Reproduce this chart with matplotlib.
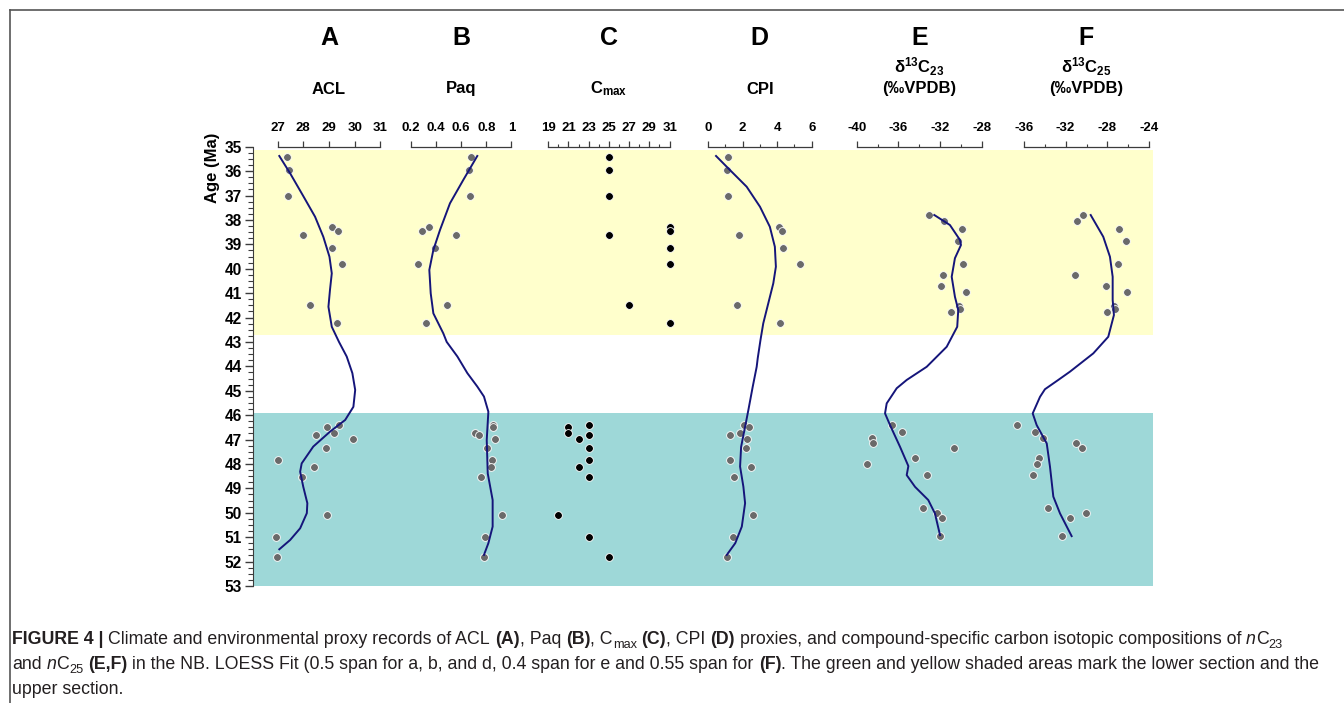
import matplotlib
matplotlib.use("Agg")
import matplotlib.pyplot as plt
from matplotlib import font_manager
from matplotlib.ticker import MultipleLocator, FixedLocator, FuncFormatter
from matplotlib.transforms import IdentityTransform

# ---- data ----
# sample ages (Ma) for ACL, Paq, Cmax, CPI
age = [35.41, 35.95, 37.02, 38.30, 38.44, 38.63, 39.17, 39.82, 41.49, 42.23,
       46.41, 46.47, 46.74, 46.82, 46.97, 47.36, 47.82, 48.14, 48.52, 50.10, 51.01, 51.82]
acl = [27.38, 27.45, 27.40, 29.13, 29.37, 27.98, 29.12, 29.51, 28.28, 29.32,
       29.39, 28.91, 29.21, 28.50, 29.94, 28.89, 27.01, 28.43, 27.94, 28.93, 26.94, 26.99]
paq = [0.679, 0.661, 0.674, 0.345, 0.292, 0.557, 0.390, 0.258, 0.486, 0.322,
       0.850, 0.855, 0.713, 0.740, 0.872, 0.806, 0.843, 0.840, 0.758, 0.923, 0.793, 0.782]
cmax = [25, 25, 25, 31, 31, 25, 31, 31, 27, 31,
        23, 21, 21, 23, 22, 23, 23, 22, 23, 20, 23, 25]
cpi = [1.14, 1.12, 1.18, 4.10, 4.30, 1.78, 4.32, 5.32, 1.66, 4.14,
       2.07, 2.38, 1.86, 1.28, 2.26, 2.20, 1.28, 2.47, 1.49, 2.61, 1.43, 1.10]

# compound-specific isotopes
age_iso = [37.80, 38.05, 38.37, 38.86, 39.81, 40.26, 40.70, 40.94, 41.52, 41.64, 41.79,
           46.41, 46.68, 46.92, 47.13, 47.34, 47.77, 48.02, 48.47, 49.82, 50.03, 50.23, 50.96]
d13c23 = [-33.06, -31.59, -29.89, -30.25, -29.80, -31.69, -31.94, -29.48, -30.15, -30.09, -30.95,
          -36.64, -35.62, -38.56, -38.46, -30.63, -34.43, -38.98, -33.22, -33.67, -32.32, -31.84, -32.01]
d13c25 = [-30.36, -30.88, -26.87, -26.23, -26.96, -31.13, -28.14, -26.11, -27.38, -27.25, -28.01,
          -36.61, -34.92, -34.19, -30.98, -30.43, -34.54, -34.73, -35.14, -33.65, -30.02, -31.61, -32.34]

# LOESS curves
acl_fit_age = [35.38, 36.09, 37.02, 37.87, 38.69, 39.51, 40.19, 40.87, 41.56, 42.38, 43.00, 43.60,
               44.28, 44.97, 45.66, 46.20, 46.68, 47.29, 47.98, 48.32, 48.93, 49.61, 50.02, 50.64, 51.12, 51.50]
acl_fit = [27.07, 27.49, 28.00, 28.46, 28.78, 29.02, 29.11, 29.04, 28.98, 29.11, 29.39, 29.69,
           29.91, 30.02, 29.95, 29.63, 29.04, 28.39, 27.94, 27.88, 28.00, 28.16, 28.14, 27.88, 27.49, 27.07]
paq_fit_age = [35.38, 36.36, 37.32, 38.41, 39.23, 40.05, 41.01, 41.83, 42.65, 43.00, 43.60, 44.28,
               44.83, 45.24, 45.86, 47.02, 48.39, 49.48, 50.57, 51.25, 51.73]
paq_fit = [0.729, 0.618, 0.512, 0.433, 0.380, 0.348, 0.359, 0.380, 0.459, 0.486, 0.571, 0.650,
           0.729, 0.782, 0.817, 0.804, 0.812, 0.851, 0.851, 0.817, 0.782]
cpi_fit_age = [35.38, 35.96, 36.64, 37.46, 38.28, 39.10, 39.92, 40.60, 41.42, 42.24, 42.92, 43.67,
               44.02, 44.84, 45.79, 46.48, 47.30, 48.11, 48.93, 49.61, 50.57, 51.25, 51.73]
cpi_fit = [0.47, 1.28, 2.24, 3.01, 3.58, 3.87, 3.93, 3.78, 3.49, 3.20, 3.04, 2.88,
           2.82, 2.59, 2.34, 2.15, 1.92, 1.86, 2.05, 2.15, 1.96, 1.58, 1.09]
c23_fit_age = [37.80, 38.21, 38.82, 39.03, 39.57, 40.33, 41.15, 41.69, 42.38, 43.20, 44.02, 44.56,
               44.90, 45.52, 45.93, 46.41, 47.30, 48.09, 48.46, 48.94, 49.48, 50.03, 50.92]
c23_fit = [-32.55, -31.05, -30.09, -29.99, -30.57, -30.88, -30.57, -30.25, -30.35, -31.36, -33.28, -35.20,
           -36.16, -37.12, -37.28, -36.80, -35.84, -35.04, -35.20, -34.40, -33.13, -32.49, -32.00]
c25_fit_age = [37.80, 38.69, 39.51, 40.33, 41.28, 41.90, 42.79, 43.47, 44.22, 44.56, 44.94, 45.25,
               45.93, 46.41, 47.16, 48.11, 49.34, 50.03, 50.96]
c25_fit = [-29.60, -28.40, -27.76, -27.50, -27.50, -27.38, -27.92, -29.35, -31.58, -32.70, -33.97, -34.44,
           -35.14, -34.76, -33.80, -33.49, -33.17, -32.53, -31.42]

upper_section = (35.15, 42.70)
lower_section = (45.90, 53.00)

# ---- style ----
plt.rcParams['font.family'] = ['Liberation Sans', 'DejaVu Sans']
plt.rcParams['mathtext.fontset'] = 'custom'
plt.rcParams['mathtext.rm'] = 'Liberation Sans'
plt.rcParams['mathtext.bf'] = 'Liberation Sans:bold'
plt.rcParams['mathtext.it'] = 'Liberation Sans:italic'

names = {f.name for f in font_manager.fontManager.ttflist}
cap_family = 'Liberation Sans Narrow' if 'Liberation Sans Narrow' in names else 'Liberation Sans'
cap_size = 15.2 if cap_family == 'Liberation Sans Narrow' else 12.8

W, H = 1344, 703
fig = plt.figure(figsize=(W / 100, H / 100), dpi=100)


def fx(px):
    return px / W


def fy(py):
    return 1 - py / H


y_top, y_bot = 146.7, 585.9
spine_col = '#3c3c3c'
line_col = '#15157a'
dot_col = '#6a6a6a'

# main axis: shading + age scale
main = fig.add_axes([fx(253), fy(y_bot), fx(1153) - fx(253), fy(y_top) - fy(y_bot)])
main.set_xlim(0, 1)
main.set_ylim(53, 35)
main.axhspan(*upper_section, color='#ffffcc', lw=0)
main.axhspan(*lower_section, color='#9ed8d8', lw=0)
for s in ['top', 'right', 'bottom']:
    main.spines[s].set_visible(False)
main.spines['left'].set_color(spine_col)
main.set_xticks([])
main.yaxis.set_major_locator(MultipleLocator(1))
main.yaxis.set_minor_locator(MultipleLocator(0.25))
main.tick_params(axis='y', which='major', length=6, width=1, color=spine_col, pad=2,
                 labelsize=11.2)
main.tick_params(axis='y', which='minor', length=3.5, width=0.8, color=spine_col)
for lab in main.get_yticklabels():
    lab.set_fontweight('bold')
main.patch.set_visible(False)

fig.text(fx(212), fy(168), 'Age (Ma)', rotation=90, ha='center', va='center',
         fontsize=12, fontweight='bold')

# panel definitions: letter, title, x-pixel span, x-limits, major, minor, values, fit
panels = [
    ('A', ['ACL'], (277.5, 380.4), (27, 31), [27, 28, 29, 30, 31], None, acl, dot_col, (acl_fit_age, acl_fit), age),
    ('B', ['Paq'], (410.7, 511.4), (0.2, 1.0), [0.2, 0.4, 0.6, 0.8, 1.0], None, paq, dot_col, (paq_fit_age, paq_fit), age),
    ('C', [r'C$_{\mathbf{max}}$'], (548.2, 669.6), (19, 31), [19, 21, 23, 25, 27, 29, 31], 1, cmax, 'black', None, age),
    ('D', ['CPI'], (707.9, 811.7), (0, 6), [0, 2, 4, 6], 1, cpi, dot_col, (cpi_fit_age, cpi_fit), age),
    ('E', [r'δ$^{\mathbf{13}}$C$_{\mathbf{23}}$', '(‰VPDB)'], (856.7, 981.7), (-40, -28), [-40, -36, -32, -28], 2,
     d13c23, dot_col, (c23_fit_age, c23_fit), age_iso),
    ('F', [r'δ$^{\mathbf{13}}$C$_{\mathbf{25}}$', '(‰VPDB)'], (1023.7, 1149.3), (-36, -24), [-36, -32, -28, -24], 2,
     d13c25, dot_col, (c25_fit_age, c25_fit), age_iso),
]

for letter, title, (x0, x1), xlim, majors, minor, vals, col, fit, ages in panels:
    ax = fig.add_axes([fx(x0), fy(y_bot), fx(x1) - fx(x0), fy(y_top) - fy(y_bot)])
    ax.patch.set_visible(False)
    ax.set_xlim(*xlim)
    ax.set_ylim(53, 35)
    for s in ['left', 'right', 'bottom']:
        ax.spines[s].set_visible(False)
    ax.spines['top'].set_color(spine_col)
    ax.spines['top'].set_linewidth(0.9)
    ax.set_yticks([])
    ax.xaxis.set_ticks_position('top')
    ax.xaxis.set_label_position('top')
    ax.xaxis.set_major_locator(FixedLocator(majors))
    ax.xaxis.set_major_formatter(FuncFormatter(lambda v, p: '{:g}'.format(round(v, 2))))
    if minor:
        ax.xaxis.set_minor_locator(MultipleLocator(minor))
    ax.tick_params(axis='x', which='major', direction='out', length=4.5, width=0.9,
                   color=spine_col, pad=5, labelsize=9.5)
    ax.tick_params(axis='x', which='minor', direction='out', length=2.5, width=0.8, color=spine_col)
    for lab in ax.get_xticklabels():
        lab.set_fontweight('bold')

    ax.plot(vals, ages, 'o', ms=5.6, color=col, mec='white', mew=0.6, clip_on=False, zorder=3)
    if fit is not None:
        ax.plot(fit[1], fit[0], color=line_col, lw=1.4, clip_on=False, zorder=4)

    cx = fx((x0 + x1) / 2)
    fig.text(cx, fy(38), letter, ha='center', va='center', fontsize=18, fontweight='bold')
    if len(title) == 1:
        fig.text(cx, fy(89), title[0], ha='center', va='center', fontsize=12, fontweight='bold')
    else:
        fig.text(cx, fy(67), title[0], ha='center', va='center', fontsize=12, fontweight='bold')
        fig.text(cx, fy(89), title[1], ha='center', va='center', fontsize=12, fontweight='bold')

# frame lines round the figure
fig.add_artist(plt.Line2D([fx(9.5), fx(9.5)], [0, fy(10)], color='#555555', lw=1.2))
fig.add_artist(plt.Line2D([fx(9.5), 1], [fy(10), fy(10)], color='#555555', lw=1.2))

# ---- caption, drawn run by run ----
renderer = fig.canvas.get_renderer()
cap_col = '#231f20'


def text_width(s, **kw):
    t = fig.text(0, 0, s, transform=IdentityTransform(), **kw)
    w = t.get_window_extent(renderer).width
    t.remove()
    return w


def draw_runs(runs, x, ybase):
    px_per_pt = 100 / 72
    for s, style in runs:
        kw = dict(family=cap_family, fontsize=cap_size, color=cap_col)
        yy = ybase
        if style == 'b':
            kw['fontweight'] = 'bold'
        elif style == 'i':
            kw['fontstyle'] = 'italic'
        elif style == 'sub':
            kw['fontsize'] = cap_size * 0.72
            yy = ybase - 0.22 * cap_size * px_per_pt
        sp = text_width('a a', **kw) - text_width('aa', **kw)
        core = s.strip(' ')
        if not core:
            x += len(s) * sp
            continue
        x += (len(s) - len(s.lstrip(' '))) * sp
        t = fig.text(x, yy, core, transform=IdentityTransform(), ha='left', va='baseline', **kw)
        x += t.get_window_extent(renderer).width
        x += (len(s) - len(s.rstrip(' '))) * sp


line1 = [('FIGURE 4 |', 'b'), (' Climate and environmental proxy records of ACL ', 'r'), ('(A)', 'b'),
         (', Paq ', 'r'), ('(B)', 'b'), (', C', 'r'), ('max', 'sub'), (' ', 'r'), ('(C)', 'b'),
         (', CPI ', 'r'), ('(D)', 'b'),
         (' proxies, and compound-specific carbon isotopic compositions of ', 'r'),
         ('n', 'i'), ('C', 'r'), ('23', 'sub')]
line2 = [('and ', 'r'), ('n', 'i'), ('C', 'r'), ('25', 'sub'), (' ', 'r'), ('(E,F)', 'b'),
         (' in the NB. LOESS Fit (0.5 span for a, b, and d, 0.4 span for e and 0.55 span for ', 'r'),
         ('(F)', 'b'), ('. The green and yellow shaded areas mark the lower section and the', 'r')]
line3 = [('upper section.', 'r')]

draw_runs(line1, 12, H - 644)
draw_runs(line2, 12, H - 669)
draw_runs(line3, 12, H - 694)

fig.savefig('out.png', dpi=100)
